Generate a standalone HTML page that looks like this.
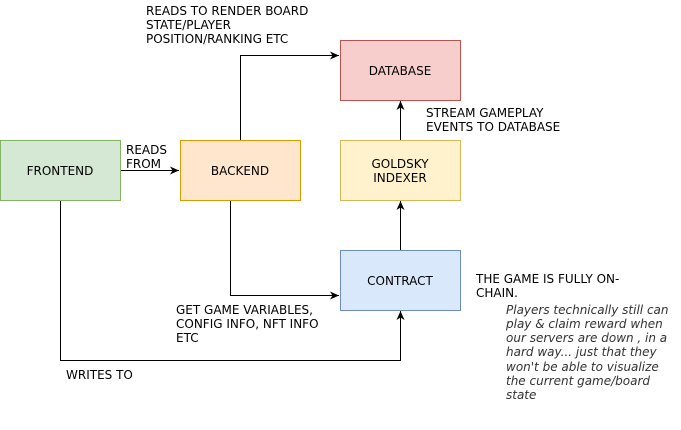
<!DOCTYPE html>
<html><head><meta charset="utf-8"><style>
html,body{margin:0;padding:0;background:#fff;width:681px;height:430px;overflow:hidden}
text{font-family:"DejaVu Sans",Verdana,sans-serif;font-size:12px;fill:#000}
</style></head><body>
<svg width="681" height="430" viewBox="0 0 681 430" xmlns="http://www.w3.org/2000/svg">
<defs><marker id="a" markerWidth="12" markerHeight="12" refX="10" refY="6" orient="auto" markerUnits="userSpaceOnUse"><path d="M1,2 L10,6 L1,10 L3.5,6 Z" fill="#000"/></marker></defs>
<g fill="none" stroke="#000" stroke-width="1">
<path d="M120.5,170.5 H179" marker-end="url(#a)"/>
<path d="M240.5,140 V55.5 H339" marker-end="url(#a)"/>
<path d="M400.5,140 V101" marker-end="url(#a)"/>
<path d="M400.5,250 V201" marker-end="url(#a)"/>
<path d="M230.5,200 V295.5 H339" marker-end="url(#a)"/>
<path d="M60.5,200 V360.5 H400.5 V311" marker-end="url(#a)"/>
</g>
<rect x="0.5" y="140.5" width="120" height="60" fill="#d5e8d4" stroke="#82b366"/>
<rect x="180.5" y="140.5" width="120" height="60" fill="#ffe6cc" stroke="#d79b00"/>
<rect x="340.5" y="40.5" width="120" height="60" fill="#f8cecc" stroke="#b85450"/>
<rect x="340.5" y="140.5" width="120" height="60" fill="#fff2cc" stroke="#d6b656"/>
<rect x="340.5" y="250.5" width="120" height="60" fill="#dae8fc" stroke="#6c8ebf"/>
<g text-anchor="middle">
<text x="60" y="175">FRONTEND</text>
<text x="240" y="175">BACKEND</text>
<text x="400" y="75">DATABASE</text>
<text x="400" y="168">GOLDSKY</text>
<text x="400" y="182">INDEXER</text>
<text x="400" y="285">CONTRACT</text>
</g>
<text x="146" y="15">READS TO RENDER BOARD</text>
<text x="146" y="29">STATE/PLAYER</text>
<text x="146" y="43">POSITION/RANKING ETC</text>
<text x="126" y="154">READS</text>
<text x="126" y="168">FROM</text>
<text x="426" y="117">STREAM GAMEPLAY</text>
<text x="426" y="131">EVENTS TO DATABASE</text>
<text x="176" y="314">GET GAME VARIABLES,</text>
<text x="176" y="328">CONFIG INFO, NFT INFO</text>
<text x="176" y="342">ETC</text>
<text x="66" y="379">WRITES TO</text>
<text x="476" y="283">THE GAME IS FULLY ON-</text>
<text x="476" y="297">CHAIN.</text>
<g font-style="italic">
<text x="506" y="314" style="fill:#333">Players technically still can</text>
<text x="506" y="328" style="fill:#333">play &amp; claim reward when</text>
<text x="506" y="342" style="fill:#333">our servers are down , in a</text>
<text x="506" y="356" style="fill:#333">hard way... just that they</text>
<text x="506" y="371" style="fill:#333">won't be able to visualize</text>
<text x="506" y="385" style="fill:#333">the current game/board</text>
<text x="506" y="399" style="fill:#333">state</text>
</g>
</svg>
</body></html>
